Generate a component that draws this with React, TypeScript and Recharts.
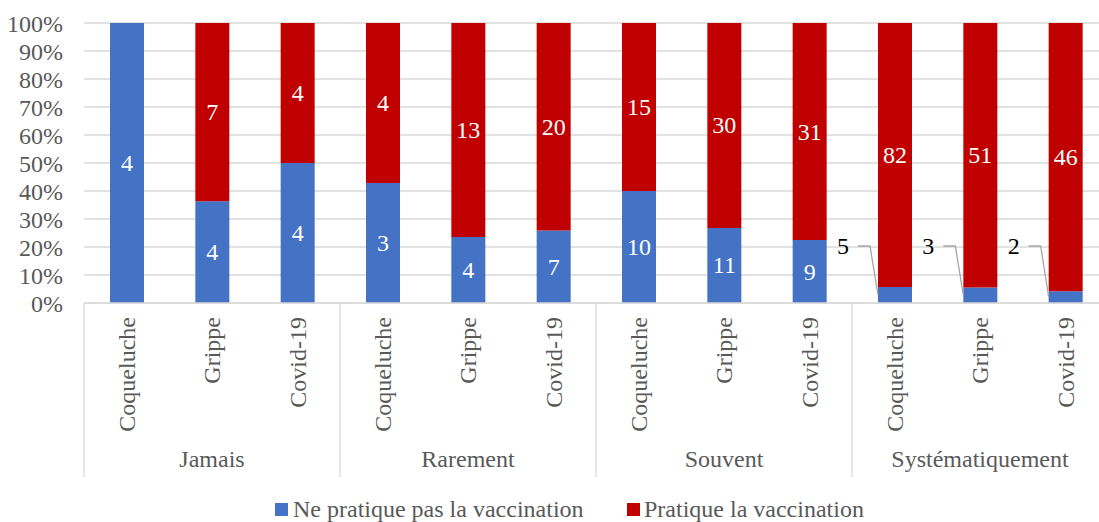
import React from 'react';
import { BarChart, Bar, XAxis, YAxis, CartesianGrid, LabelList, Legend } from 'recharts';

const categories = ['Coqueluche', 'Grippe', 'Covid-19', 'Coqueluche', 'Grippe', 'Covid-19', 'Coqueluche', 'Grippe', 'Covid-19', 'Coqueluche', 'Grippe', 'Covid-19'];
const groups = ['Jamais', 'Rarement', 'Souvent', 'Systématiquement'];
const nonVac = [4, 4, 4, 3, 4, 7, 10, 11, 9, 5, 3, 2];
const vac = [0, 7, 4, 4, 13, 20, 15, 30, 31, 82, 51, 46];
const yTicks = [0, 0.1, 0.2, 0.3, 0.4, 0.5, 0.6, 0.7, 0.8, 0.9, 1];
const seriesNames = ['Ne pratique pas la vaccination', 'Pratique la vaccination'];

const data = categories.map((c, i) => ({
  key: `${groups[Math.floor(i / 3)]}-${c}`,
  name: c,
  group: groups[Math.floor(i / 3)],
  nonVac: nonVac[i],
  vac: vac[i],
}));

const FONT = '"Liberation Serif", "Times New Roman", serif';
const FS = 24;
const BLUE = '#4472C4';
const RED = '#C00000';
const GRID = '#d9d9d9';
const TEXT = '#595959';
const CHART_W = 1108;
const CHART_H = 522;
const Y_W = 84;
const CW = (CHART_W - Y_W) / categories.length;

const XTick = (props: any) => {
  const { x, y, payload } = props;
  const i = payload.index;
  const d = data[i];
  return (
    <g>
      <text
        transform={`translate(${x},${y + 14}) rotate(-90)`}
        textAnchor="end"
        dy="0.35em"
        fontSize={FS}
        fontFamily={FONT}
        fill={TEXT}
      >
        {d.name}
      </text>
      {i % 3 === 1 && (
        <text x={x} y={y + 164} textAnchor="middle" fontSize={FS} fontFamily={FONT} fill={TEXT}>
          {d.group}
        </text>
      )}
      {i % 3 === 0 && <line x1={x - CW / 2} x2={x - CW / 2} y1={y} y2={y + 174} stroke={GRID} strokeWidth={1.3} />}
      {i === categories.length - 1 && <line x1={x + CW / 2} x2={x + CW / 2} y1={y} y2={y + 174} stroke={GRID} strokeWidth={1.3} />}
    </g>
  );
};

const InsideLabel = (props: any) => {
  const { x, y, width, height, value } = props;
  if (!value) return null;
  if (height < 20) {
    const bottom = y + height;
    const lx = x - 35;
    const ly = bottom - 57;
    return (
      <g>
        <polyline
          points={`${lx + 15},${ly} ${lx + 27},${ly} ${x},${y + height / 2}`}
          fill="none"
          stroke="#a6a6a6"
          strokeWidth={1.3}
        />
        <text x={lx} y={ly} textAnchor="middle" dominantBaseline="central" fontSize={FS} fontFamily={FONT} fill="#000">
          {value}
        </text>
      </g>
    );
  }
  return (
    <text x={x + width / 2} y={y + height / 2} textAnchor="middle" dominantBaseline="central" fontSize={FS} fontFamily={FONT} fill="#fff">
      {value}
    </text>
  );
};

const LegendContent = () => (
  <svg width={CHART_W} height={44} style={{ display: 'block' }}>
    <rect x={275} y={25} width={13} height={13} fill={BLUE} />
    <text x={293} y={39} fontSize={FS} fontFamily={FONT} fill={TEXT}>{seriesNames[0]}</text>
    <rect x={627} y={25} width={13} height={13} fill={RED} />
    <text x={644} y={39} fontSize={FS} fontFamily={FONT} fill={TEXT}>{seriesNames[1]}</text>
  </svg>
);

export default function App() {
  return (
    <div style={{ position: 'fixed', left: 0, top: 0, width: 1099, height: 522, overflow: 'hidden', background: '#fff' }}>
      <BarChart
        width={CHART_W}
        height={CHART_H}
        data={data}
        stackOffset="expand"
        margin={{ top: 23, right: 0, bottom: 0, left: 0 }}
        barSize={34}
      >
        <CartesianGrid vertical={false} stroke={GRID} strokeWidth={1.3} />
        <XAxis
          dataKey="key"
          height={175}
          interval={0}
          tickLine={false}
          tickSize={0}
          tickMargin={0}
          axisLine={{ stroke: GRID, strokeWidth: 1.3 }}
          tick={<XTick />}
        />
        <YAxis
          width={Y_W}
          domain={[0, 1]}
          ticks={yTicks}
          interval={0}
          tickFormatter={(v: number) => `${Math.round(v * 100)}%`}
          axisLine={false}
          tickLine={false}
          tickSize={0}
          tickMargin={21}
          tick={{ fontSize: FS, fontFamily: FONT, fill: TEXT }}
        />
        <Legend verticalAlign="bottom" height={44} content={<LegendContent />} wrapperStyle={{ left: 0, bottom: 0, width: CHART_W, height: 44 }} />
        <Bar dataKey="nonVac" stackId="a" fill={BLUE} isAnimationActive={false} name={seriesNames[0]}>
          <LabelList dataKey="nonVac" content={<InsideLabel />} />
        </Bar>
        <Bar dataKey="vac" stackId="a" fill={RED} isAnimationActive={false} name={seriesNames[1]}>
          <LabelList dataKey="vac" content={<InsideLabel />} />
        </Bar>
      </BarChart>
    </div>
  );
}
